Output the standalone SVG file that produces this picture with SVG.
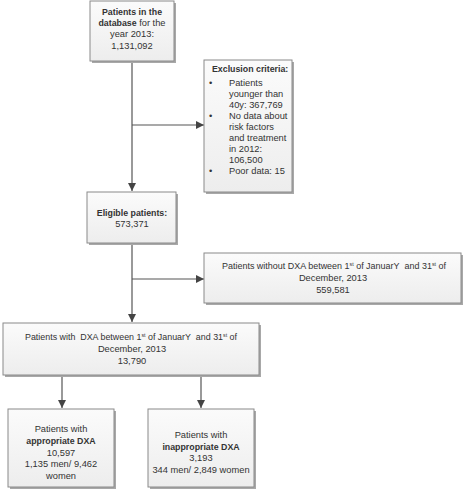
<svg xmlns="http://www.w3.org/2000/svg" width="467" height="500" viewBox="0 0 467 500">
<defs>
<linearGradient id="g" x1="0" y1="0" x2="0" y2="1">
<stop offset="0" stop-color="#fbfbfb"/>
<stop offset="1" stop-color="#ededed"/>
</linearGradient>
<marker id="ah" viewBox="0 0 10 10" refX="10" refY="5" markerWidth="8" markerHeight="8" markerUnits="userSpaceOnUse" orient="auto">
<path d="M0,0 L10,5 L0,10 z" fill="#444"/>
</marker>
</defs>
<style>
.box{fill:url(#g);stroke:#8a8a8a;stroke-width:1}
.sh{fill:#a8a8a8}
text{font-family:"Liberation Sans",Arial,sans-serif;font-size:9.3px;fill:#333}
.b{font-weight:bold;font-size:8.8px}
.c{text-anchor:middle}
.ln{stroke:#555;stroke-width:1.2;fill:none}
.sup{font-size:5.5px}
</style>
<rect width="467" height="500" fill="#fff"/>
<g id="connectors">
<path class="ln" d="M132,61 V191" marker-end="url(#ah)"/>
<path class="ln" d="M132,125 H204" marker-end="url(#ah)"/>
<path class="ln" d="M132,243 V322" marker-end="url(#ah)"/>
<path class="ln" d="M132,279 H204" marker-end="url(#ah)"/>
<path class="ln" d="M62,375 V408" marker-end="url(#ah)"/>
<path class="ln" d="M201,375 V408" marker-end="url(#ah)"/>
</g>
<g id="n1">
<rect class="sh" x="92" y="3" width="84" height="60"/>
<rect class="box" x="90" y="1" width="84" height="60"/>
<text class="c" x="132" y="15"><tspan class="b">Patients in the</tspan></text>
<text class="c" x="132" y="26"><tspan class="b">database</tspan> for the</text>
<text class="c" x="132" y="37">year 2013:</text>
<text class="c" x="132" y="49">1,131,092</text>
</g>
<g id="n2">
<rect class="sh" x="206" y="62" width="88" height="132"/>
<rect class="box" x="204" y="60" width="88" height="132"/>
<text class="b" x="212" y="72">Exclusion criteria:</text>
<text x="209" y="86">•</text>
<text x="229" y="86">Patients</text>
<text x="229" y="97">younger than</text>
<text x="229" y="108">40y: 367,769</text>
<text x="209" y="119">•</text>
<text x="229" y="119">No data about</text>
<text x="229" y="130">risk factors</text>
<text x="229" y="141">and treatment</text>
<text x="229" y="152">in 2012:</text>
<text x="229" y="163">106,500</text>
<text x="209" y="174">•</text>
<text x="229" y="174">Poor data: 15</text>
</g>
<g id="n3">
<rect class="sh" x="89" y="194" width="89" height="51"/>
<rect class="box" x="87" y="192" width="89" height="51"/>
<text class="c b" x="132" y="216">Eligible patients:</text>
<text class="c" x="132" y="227">573,371</text>
</g>
<g id="n4">
<rect class="sh" x="206" y="255" width="257" height="50"/>
<rect class="box" x="204" y="253" width="257" height="50"/>
<text x="222" y="269" textLength="224" lengthAdjust="spacingAndGlyphs">Patients without DXA between 1<tspan class="sup" dy="-3">st</tspan><tspan dy="3"> of JanuarY&#160; and 31</tspan><tspan class="sup" dy="-3">st</tspan><tspan dy="3"> of</tspan></text>
<text class="c" x="333" y="281">December, 2013</text>
<text class="c" x="333" y="293">559,581</text>
</g>
<g id="n5">
<rect class="sh" x="5" y="325" width="256" height="52"/>
<rect class="box" x="3" y="323" width="256" height="52"/>
<text x="25" y="340" textLength="212" lengthAdjust="spacingAndGlyphs">Patients with&#160; DXA between 1<tspan class="sup" dy="-3">st</tspan><tspan dy="3"> of JanuarY&#160; and 31</tspan><tspan class="sup" dy="-3">st</tspan><tspan dy="3"> of</tspan></text>
<text class="c" x="132" y="352">December, 2013</text>
<text class="c" x="132" y="364">13,790</text>
</g>
<g id="n6">
<rect class="sh" x="10" y="411" width="106" height="78"/>
<rect class="box" x="8" y="409" width="106" height="78"/>
<text class="c" x="61" y="432">Patients with</text>
<text class="c b" x="61" y="444">appropriate DXA</text>
<text class="c" x="61" y="456">10,597</text>
<text class="c" x="61" y="467">1,135 men/ 9,462</text>
<text class="c" x="61" y="479">women</text>
</g>
<g id="n7">
<rect class="sh" x="150" y="411" width="106" height="78"/>
<rect class="box" x="148" y="409" width="106" height="78"/>
<text class="c" x="201" y="438">Patients with</text>
<text class="c b" x="201" y="450">inappropriate DXA</text>
<text class="c" x="201" y="461">3,193</text>
<text class="c" x="201" y="473">344 men/ 2,849 women</text>
</g>
</svg>
